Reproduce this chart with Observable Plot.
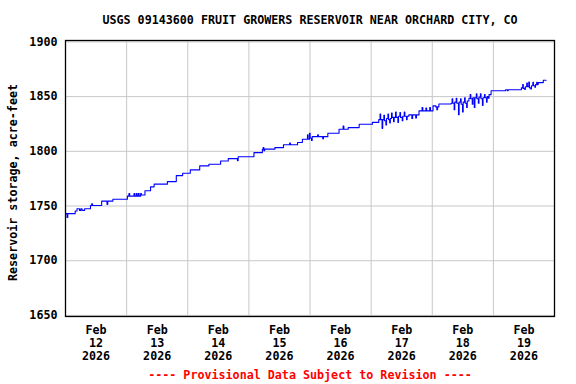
<!DOCTYPE html>
<html><head><meta charset="utf-8">
<script src="https://cdn.jsdelivr.net/npm/d3@7"></script>
<script src="https://cdn.jsdelivr.net/npm/@observablehq/plot@0.6"></script>
<style>html,body{margin:0;padding:0;background:#fff} svg{display:block}</style>
</head><body><div id="chart"></div>
<script>
const title = "USGS 09143600 FRUIT GROWERS RESERVOIR NEAR ORCHARD CITY, CO";
const yLabel = "Reservoir storage, acre-feet";
const footer = "---- Provisional Data Subject to Revision ----";
const startTime = "2026-02-12T00:00:00Z";
const endTime = "2026-02-20T00:00:00Z";
const tickMonth = "Feb";
const tickYear = "2026";
const tickDays = [12, 13, 14, 15, 16, 17, 18, 19];
const yTicks = [1650, 1700, 1750, 1800, 1850, 1900];

// hours since Feb 12 00:00
const hours = [
  0, 0.6, 0.9, 3.8, 4.5, 5.5, 6, 6.5, 7.5, 9.8, 10.3, 10.6, 14.2, 16.3, 16.6, 18.6,
  24.3, 24.9, 25.2, 26.9, 27.2, 27.8, 28.1, 28.6, 28.9, 29.5, 29.8, 31.2, 33.4, 34.8, 40, 43.5, 46,
  49, 52.7, 56.3, 60.9, 63.9, 67.5, 67.8, 74, 77.3, 77.6, 77.9, 78.2, 82.2, 85.6, 88, 88.3, 91.1, 93,
  95, 95.25, 95.8, 96.05, 96.6, 96.85, 99, 99.3, 101, 101.3, 103, 107.4, 109, 109.3, 111, 115.3, 120.5,
  123, 123.5, 123.75, 124.3, 124.55, 125, 125.25, 125.8, 126.05, 126.6, 126.85, 127.3, 127.55,
  128, 128.25, 128.8, 129.05, 129.6, 129.85, 130.5, 130.75, 131.3, 131.55, 132.2, 132.45, 133, 133.25, 133.9, 134.15,
  134.8, 136, 136.3, 137.5, 137.8, 138.8, 140, 140.3, 141.5, 141.8, 143, 143.3, 144.3,
  145.4, 145.8, 146.1, 146.6,
  151.4, 151.8, 152.05, 152.6, 152.85, 153.4, 153.65, 154.3, 154.55, 155.1, 155.35, 155.9, 156.15, 156.7, 156.95, 157.5, 157.75,
  158.4, 158.9, 159.15, 159.7, 159.95, 160.5, 160.75, 161.3, 161.55, 162.1, 162.35, 162.9, 163.15, 163.7, 163.95, 164.5, 164.75, 165.3, 165.55, 166,
  166.3, 167.1, 172.8, 173.5, 173.8,
  179, 179.5, 179.75, 180.3, 180.55, 181.1, 181.35, 181.9, 182.15, 182.7, 182.95, 183.5, 183.75, 184.3, 184.55, 185, 185.25,
  185.6, 187.6, 188.7
];
const storage = [
  1743, 1739.5, 1743, 1745.5, 1747.5, 1746, 1747.5, 1746, 1747.5, 1750.5, 1752, 1750.5, 1754.5, 1751.5, 1754.5, 1756.2,
  1759, 1761.5, 1759, 1761.5, 1759, 1761.5, 1759, 1761.5, 1759, 1761.5, 1760, 1764, 1767.5, 1770, 1772.3, 1777.8, 1780,
  1783, 1786.7, 1788.2, 1791.2, 1793.3, 1791.5, 1795.1, 1798.8, 1801.9, 1803.5, 1800.5, 1802, 1803.4, 1806, 1807.5, 1806, 1808, 1811,
  1815, 1811, 1816.5, 1812, 1810, 1813.4, 1815, 1813.4, 1811.5, 1813.4, 1816.5, 1820.2, 1823, 1820.2, 1821.7, 1824.8, 1826.5,
  1829, 1834, 1829, 1821, 1829, 1833, 1828, 1824, 1830, 1834, 1829, 1826, 1830,
  1835, 1831, 1827, 1831, 1836, 1831, 1826.5, 1832, 1835.5, 1831, 1828, 1832, 1836, 1832, 1829, 1832,
  1833.3, 1830, 1833.3, 1830.5, 1833.3, 1837, 1840, 1837, 1839.5, 1837, 1840, 1837, 1841.5,
  1840.6, 1838, 1840.6, 1843.3,
  1844, 1848, 1844, 1838, 1845, 1848.5, 1844, 1833.5, 1845, 1848, 1843, 1836, 1845, 1849, 1844, 1840, 1846,
  1848.5, 1852, 1848, 1843, 1849, 1840, 1849, 1852.5, 1848, 1844, 1849.5, 1852.5, 1848, 1842, 1849, 1852, 1849, 1845, 1850, 1848.5,
  1851.8, 1855.3, 1856.3, 1855.3, 1856.3,
  1858, 1861, 1857.5, 1856.5, 1859, 1862.5, 1859, 1863.4, 1858, 1857, 1860, 1863, 1860, 1858.5, 1861, 1863, 1861,
  1862.8, 1865, 1865
];

const t0 = Date.parse(startTime);
const HOUR = 3600e3, DAY = 24 * HOUR;
const series = hours.map((h, i) => ({date: new Date(t0 + h * HOUR), value: storage[i]}));
const midnights = tickDays.slice(1).map((d, i) => new Date(t0 + (i + 1) * DAY));
const noons = tickDays.map((d, i) => ({date: new Date(t0 + i * DAY + 12 * HOUR), label: `${tickMonth}\n${d}\n${tickYear}`}));

const font = "'DejaVu Sans Mono', 'Liberation Mono', monospace";
const fs = 11.7;
const chart = Plot.plot({
  width: 576, height: 384,
  marginTop: 40, marginBottom: 68, marginLeft: 65, marginRight: 22,
  x: {type: "utc", domain: [new Date(t0), new Date(Date.parse(endTime))], axis: null},
  y: {domain: [1649, 1901.3], axis: null},
  style: {fontFamily: font, fontWeight: "bold", fontSize: fs + "px", background: "white", color: "black"},
  marks: [
    Plot.gridY(yTicks, {stroke: "#c8c8c8", strokeOpacity: 1}),
    Plot.gridX(midnights, {stroke: "#c8c8c8", strokeOpacity: 1}),
    Plot.line(series, {x: "date", y: "value", stroke: "#0000ff", strokeWidth: 1.1, curve: "step-after"}),
    Plot.frame({stroke: "black", strokeWidth: 1.3}),
    Plot.axisY(yTicks, {tickSize: 0, tickPadding: 8, label: null, tickFormat: d => String(d), fontSize: fs, fontWeight: "bold"}),
    Plot.text(noons, {x: "date", text: "label", frameAnchor: "bottom", lineAnchor: "top", dy: 8, lineHeight: 1.12, fontSize: fs, fontWeight: "bold", fill: "black"}),
    Plot.text([title], {frameAnchor: "top", lineAnchor: "middle", dy: -20, fontSize: fs, fontWeight: "bold", fill: "black"}),
    Plot.text([yLabel], {frameAnchor: "left", textAnchor: "middle", lineAnchor: "middle", rotate: -90, dx: -52, dy: 4, fontSize: fs, fontWeight: "bold", fill: "black"}),
    Plot.text([footer], {frameAnchor: "bottom", lineAnchor: "middle", dy: 59, fontSize: fs, fontWeight: "bold", fill: "#ff0000"})
  ]
});
document.getElementById("chart").appendChild(chart);
</script>
</body></html>
